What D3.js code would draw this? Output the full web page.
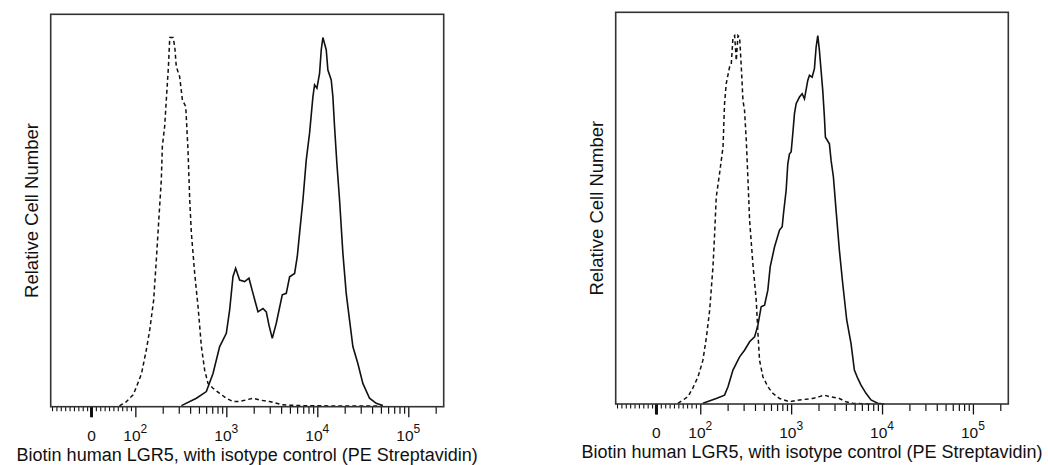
<!DOCTYPE html>
<html>
<head>
<meta charset="utf-8">
<style>
  body { margin: 0; background: #fff; }
  svg text { font-family: "Liberation Sans", Arial, sans-serif; fill: #111; }
</style>
</head>
<body>
<svg width="1048" height="465"></svg>
<script src="https://cdn.jsdelivr.net/npm/d3@7/dist/d3.min.js"></script>
<script>
// fluorescence values (PE) and relative counts (% of mode)
const leftStainedFl = [321, 469, 603, 714, 845, 1000, 1088, 1183, 1266, 1400, 1590, 1774, 1963, 2227, 2527, 2750, 2941, 3200, 3540, 4120, 4560, 4962, 5630, 6025, 6385, 6950, 7558, 8222, 8950, 9330, 9900, 10590, 11050, 11520, 12530, 13070, 14220, 14830, 15470, 16410, 17560, 19100, 20780, 22600, 24600, 27900, 31670, 37500, 44400, 52500];
const leftStainedCount = [0.3, 2.3, 4.1, 9.0, 16.3, 19.9, 26.2, 35.2, 37.5, 34.3, 33.9, 34.8, 30.7, 25.7, 26.6, 25.7, 22.1, 18.5, 22.6, 30.3, 30.7, 35.2, 36.1, 40.7, 47.0, 56.0, 66.8, 74.1, 84.0, 87.2, 86.3, 90.3, 96.7, 100, 96.7, 91.2, 88.5, 84.0, 75.9, 65.9, 56.0, 41.6, 30.7, 23.5, 16.3, 11.7, 6.3, 2.3, 0.9, 0.3];

const leftIsotypeFl = [64, 70, 76, 87, 95, 103, 117, 132, 144, 159, 170, 182, 193, 198, 210, 219, 231, 239, 260, 271, 282, 307, 329, 358, 379, 396, 413, 449, 489, 532, 578, 629, 714, 845, 1000, 1183, 1400, 1963, 2323, 2991, 4191, 6385, 14830, 34440, 52500];
const leftIsotypeCount = [0.2, 0.7, 0.9, 2.3, 3.2, 5.4, 9.0, 15.4, 20.8, 28.9, 39.7, 51.5, 61.4, 70.5, 75.9, 83.1, 92.1, 100, 100, 97.6, 92.1, 89.4, 83.1, 81.3, 69.6, 56.0, 47.0, 36.1, 27.1, 16.3, 9.9, 6.3, 5.0, 3.6, 2.3, 1.4, 1.4, 2.3, 1.8, 1.4, 0.5, 0.3, 0.2, 0.2, 0.2];

const rightStainedFl = [107, 150, 185, 202, 229, 271, 307, 349, 396, 431, 468, 510, 554, 588, 656, 745, 797, 824, 881, 919, 959, 1000, 1043, 1088, 1135, 1235, 1321, 1401, 1524, 1590, 1701, 1804, 1882, 1963, 2047, 2135, 2227, 2323, 2382, 2636, 2750, 2917, 3120, 3395, 3693, 4087, 4560, 4962, 5396, 5870, 6662, 7558, 8947, 10590];
const rightStainedCount = [0.2, 1.5, 2.4, 4.7, 9.2, 12.8, 14.6, 16.9, 18.2, 21.4, 26.4, 26.8, 30.9, 37.2, 42.6, 47.2, 48.1, 51.7, 58.0, 65.2, 67.9, 68.4, 73.4, 78.8, 81.5, 83.3, 84.2, 82.8, 87.8, 89.2, 88.7, 91.0, 96.8, 100, 95.9, 90.5, 85.1, 77.9, 72.4, 70.6, 66.1, 61.6, 52.6, 41.7, 32.7, 22.8, 16.4, 9.2, 7.0, 5.1, 2.9, 1.1, 0.2, 0];

const rightIsotypeFl = [49, 61, 72, 83, 95, 107, 117, 127, 138, 144, 150, 163, 178, 185, 193, 210, 219, 229, 239, 249, 260, 271, 283, 295, 307, 321, 334, 349, 379, 413, 431, 449, 489, 554, 629, 745, 959, 1235, 1729, 2047, 2323, 2636, 3395, 4018, 4755, 7882];
const rightIsotypeCount = [0.2, 1.1, 2.0, 4.3, 7.4, 11.9, 18.2, 25.5, 37.2, 46.3, 56.2, 62.5, 69.7, 81.5, 86.9, 91.4, 91.9, 99.5, 100, 93.2, 100, 99.5, 91.4, 82.4, 79.7, 71.5, 61.6, 49.9, 38.1, 28.2, 19.2, 11.9, 7.4, 4.7, 2.9, 1.5, 0.6, 1.1, 1.5, 2.0, 2.4, 2.0, 1.5, 0.6, 0.2, 0];

const labelValues = [0, 1e2, 1e3, 1e4, 1e5];
const labelBase = ["0", "10", "10", "10", "10"];
const labelExp = ["", "2", "3", "4", "5"];
const xTitle = "Biotin human LGR5, with isotype control (PE Streptavidin)";
const yTitle = "Relative Cell Number";

const svg = d3.select('svg');

// biexponential-like display: linear around zero, log10 above 100
const LIN = 0.482;
const biex = v => v >= 100 ? Math.log10(v) : 2 - (100 - v) / 100 * LIN;
const X_MIN = -93, X_MAX = 2.45e5;

const fineTicks = [], minorTicks = [];
for (let k = 1; k <= 9; k++) { fineTicks.push(-10 * k); fineTicks.push(10 * k); }
[1e2, 1e3, 1e4].forEach(d => { for (let k = 2; k <= 9; k++) minorTicks.push(k * d); });
minorTicks.push(2e5);

function panel(left, top, w, h, stained, isotype) {
    const g = svg.append('g').attr('transform', `translate(${left},${top})`);

    const xs = d3.scaleLinear().domain([biex(X_MIN), biex(X_MAX)]).range([0, w]);
    // scale-like wrapper so d3.axisBottom can place ticks on the biex positions
    const x = Object.assign(v => xs(biex(v)), {
        range: () => xs.range(),
        domain: () => [X_MIN, X_MAX],
        copy: () => x
    });
    const y = d3.scaleLinear().domain([0, 106.3]).range([h, 0]);

    [[fineTicks, 4.5, 1.1], [minorTicks, 7, 1.2], [labelValues, 10.5, 1.3]].forEach(([vals, size, sw]) => {
        const ax = g.append('g')
            .attr('transform', `translate(0,${h})`)
            .call(d3.axisBottom(x).tickValues(vals).tickSize(size).tickFormat(''));
        ax.select('.domain').remove();
        ax.selectAll('line').attr('stroke', '#111').attr('stroke-width', sw);
    });
    g.append('line').attr('x1', x(0)).attr('x2', x(0)).attr('y1', h).attr('y2', h + 10.5)
        .attr('stroke', '#111').attr('stroke-width', 3);

    const line = d3.line().x(d => x(d[0])).y(d => y(d[1]));
    g.append('path').datum(d3.zip(isotype[0], isotype[1])).attr('d', line)
        .attr('fill', 'none').attr('stroke', '#111').attr('stroke-width', 1.5).attr('stroke-dasharray', '4,3');
    g.append('path').datum(d3.zip(stained[0], stained[1])).attr('d', line)
        .attr('fill', 'none').attr('stroke', '#111').attr('stroke-width', 1.6);

    g.append('rect').attr('width', w).attr('height', h)
        .attr('fill', 'none').attr('stroke', '#333').attr('stroke-width', 1.6);

    const lbl = g.selectAll('text.tick-label').data(labelValues).enter().append('text')
        .attr('class', 'tick-label')
        .attr('x', d => x(d)).attr('y', h + 34.5)
        .attr('text-anchor', 'middle').style('font-size', '15.5px');
    lbl.append('tspan').text((d, i) => labelBase[i]);
    lbl.append('tspan').attr('dy', -8).style('font-size', '12px').text((d, i) => labelExp[i]);

    g.append('text').attr('x', w / 2).attr('y', h + 54.3).attr('text-anchor', 'middle')
        .style('font-size', '18px').text(xTitle);
    g.append('text').attr('transform', `translate(-13,${h / 2}) rotate(-90)`)
        .attr('text-anchor', 'middle').style('font-size', '18.5px').text(yTitle);
}

panel(50.7, 14.3, 393, 392.4, [leftStainedFl, leftStainedCount], [leftIsotypeFl, leftIsotypeCount]);
panel(615.7, 12.3, 392.6, 391.7, [rightStainedFl, rightStainedCount], [rightIsotypeFl, rightIsotypeCount]);
</script>
</body>
</html>
